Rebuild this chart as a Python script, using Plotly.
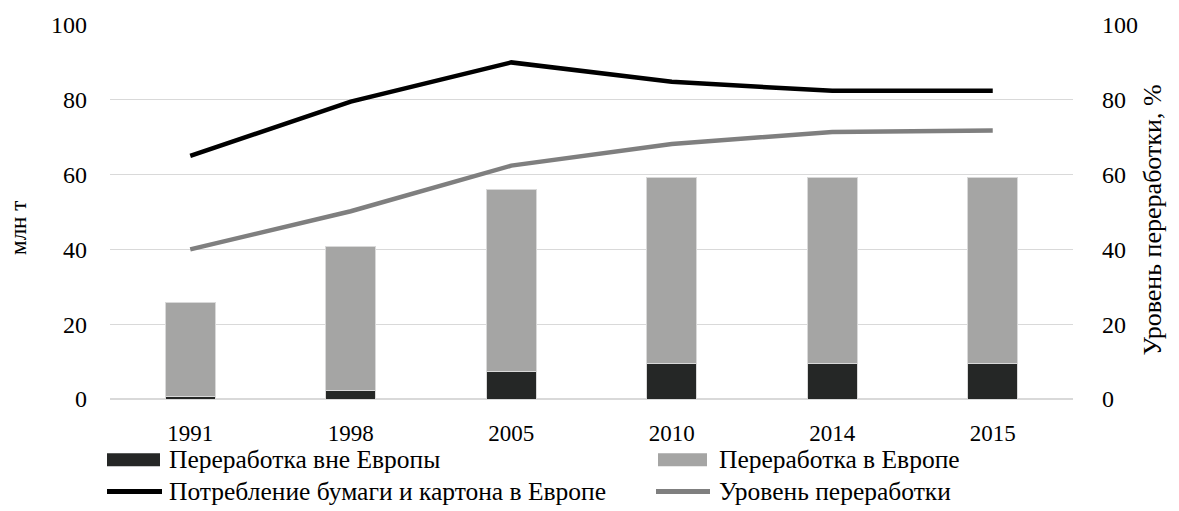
import plotly.graph_objects as go

years = ["1991", "1998", "2005", "2010", "2014", "2015"]
outside_europe = [0.8, 2.4, 7.3, 9.4, 9.4, 9.4]
inside_europe = [25.1, 38.3, 48.8, 49.9, 49.9, 49.9]
consumption = [65.0, 79.5, 90.0, 84.8, 82.4, 82.4]
recycling_rate = [40.0, 50.2, 62.4, 68.2, 71.4, 71.8]

names = ["Переработка вне Европы", "Переработка в Европе",
         "Потребление бумаги и картона в Европе", "Уровень переработки"]
y_ticks = [0, 20, 40, 60, 80, 100]
left_title = "млн т"
right_title = "Уровень переработки, %"

C_DARK = "#252726"
C_LIGHT = "#a5a5a4"
C_BLACK = "#000000"
C_GRAYLINE = "#7f7f7f"
FONT = "'Liberation Serif', 'Times New Roman', 'DejaVu Serif', serif"

fig = go.Figure()
fig.add_trace(go.Bar(x=years, y=outside_europe, name=names[0], marker=dict(color=C_DARK, line=dict(color="#d9d9d9", width=1)), width=0.31, showlegend=False))
fig.add_trace(go.Bar(x=years, y=inside_europe, name=names[1], marker=dict(color=C_LIGHT, line=dict(color="#d9d9d9", width=1)), width=0.31, showlegend=False))
fig.add_trace(go.Scatter(x=years, y=consumption, name=names[2], mode="lines", line=dict(color=C_BLACK, width=4.5), showlegend=False))
fig.add_trace(go.Scatter(x=years, y=recycling_rate, name=names[3], mode="lines", line=dict(color=C_GRAYLINE, width=4.5), yaxis="y2", showlegend=False))

W, H = 1179, 511
L, R, T, B = 110, 1073, 23, 399
pw, ph = R - L, B - T

def px(x):
    return (x - L) / pw

def py(y):
    return (B - y) / ph

shapes = []
annotations = []
# manual legend
legend_items = [
    (names[0], "rect", C_DARK, 107, 160, 460, 167),
    (names[1], "rect", C_LIGHT, 658, 707, 460, 717),
    (names[2], "line", C_BLACK, 107, 162, 492, 167),
    (names[3], "line", C_GRAYLINE, 656, 710, 492, 717),
]
for text, kind, col, x0, x1, yc, tx in legend_items:
    if kind == "rect":
        shapes.append(dict(type="rect", xref="paper", yref="paper", x0=px(x0), x1=px(x1), y0=py(yc + 6.5), y1=py(yc - 6.5), fillcolor=col, line=dict(width=0)))
    else:
        shapes.append(dict(type="line", xref="paper", yref="paper", x0=px(x0), x1=px(x1), y0=py(yc), y1=py(yc), line=dict(color=col, width=5)))
    annotations.append(dict(text=text, xref="paper", yref="paper", x=px(tx), y=py(yc), xanchor="left", yanchor="middle", showarrow=False, font=dict(family=FONT, size=25.5, color="#000")))

annotations.append(dict(text=left_title, xref="paper", yref="paper", x=px(18.5), y=py(227.5), textangle=-90, xanchor="center", yanchor="middle", showarrow=False, font=dict(family=FONT, size=23, color="#000")))
annotations.append(dict(text=right_title, xref="paper", yref="paper", x=px(1152), y=py(219.5), textangle=-90, xanchor="center", yanchor="middle", showarrow=False, font=dict(family=FONT, size=26, color="#000")))

fig.update_layout(
    width=W, height=H,
    margin=dict(l=L, r=W - R, t=T, b=H - B, pad=0),
    paper_bgcolor="white", plot_bgcolor="white",
    barmode="stack",
    font=dict(family=FONT, size=24, color="#000"),
    xaxis=dict(type="category", range=[-0.5, 5.5], showgrid=False, showline=False, ticks="", ticklabelstandoff=18, tickfont=dict(family=FONT, size=23)),
    yaxis=dict(range=[0, 100], tickvals=y_ticks, showgrid=True, gridcolor="#d9d9d9", gridwidth=1.3, zeroline=True, zerolinecolor="#d9d9d9", zerolinewidth=1.5, showline=False, ticks="", ticklabelstandoff=22, tickfont=dict(family=FONT, size=24)),
    yaxis2=dict(range=[0, 100], tickvals=y_ticks, overlaying="y", side="right", showgrid=False, zeroline=False, showline=False, ticks="", ticklabelstandoff=28, tickfont=dict(family=FONT, size=24)),
    shapes=shapes,
    annotations=annotations,
    showlegend=False,
)

fig.write_html("out.html", config={"displayModeBar": False},
               post_script="document.body.style.margin='0';document.body.style.padding='0';")
